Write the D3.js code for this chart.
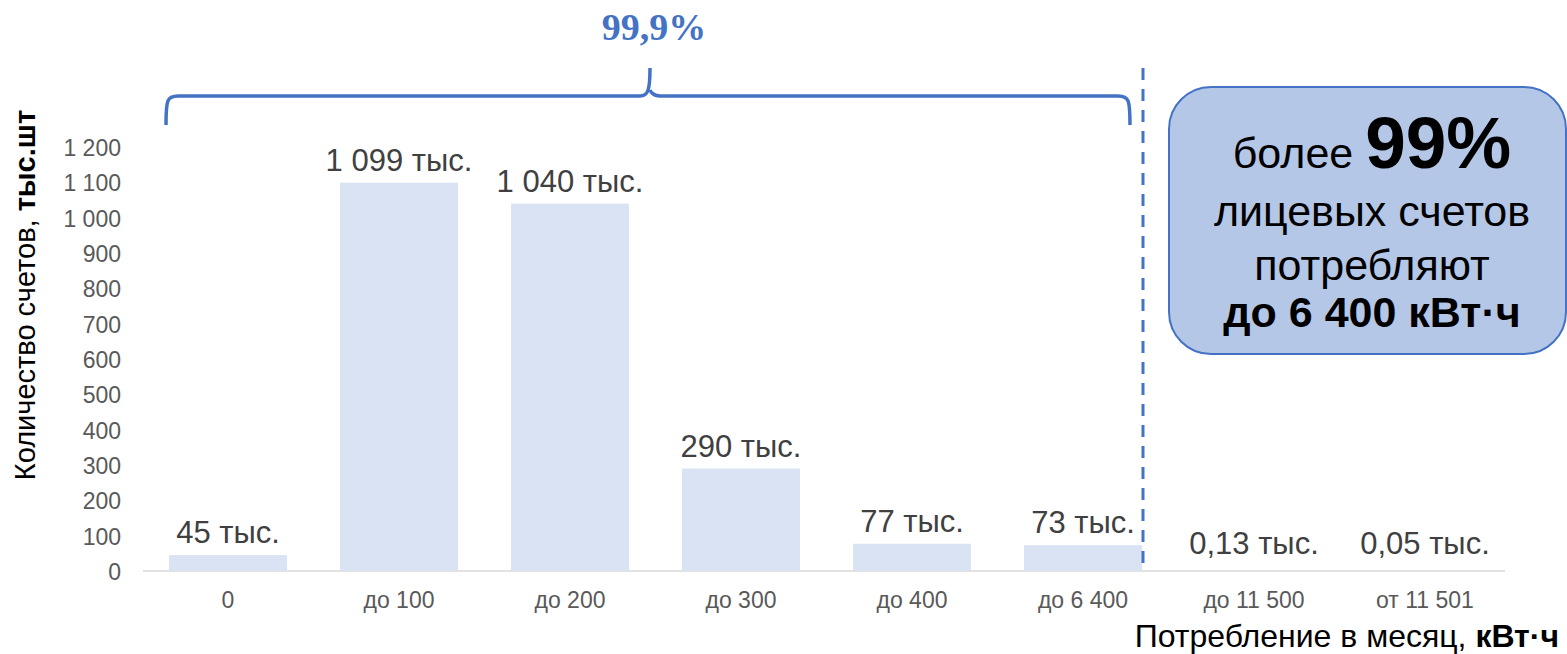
<!DOCTYPE html>
<html><head><meta charset="utf-8">
<script src="https://cdn.jsdelivr.net/npm/d3@7"></script>
<style>body{margin:0;background:#fff}svg{display:block;font-family:Arial,"Liberation Sans",sans-serif}</style>
</head><body><svg id="c" width="1567" height="654"></svg>
<script>
const categories = ["0","до 100","до 200","до 300","до 400","до 6 400","до 11 500","от 11 501"];
const values = [45, 1099, 1040, 290, 77, 73, 0.13, 0.05];
const valueLabels = ["45 тыс.","1 099 тыс.","1 040 тыс.","290 тыс.","77 тыс.","73 тыс.","0,13 тыс.","0,05 тыс."];
const yTicks = [0,100,200,300,400,500,600,700,800,900,1000,1100,1200];
const yTickLabels = ["0","100","200","300","400","500","600","700","800","900","1 000","1 100","1 200"];

(function(){
const svg = d3.select("#c");
const x = d3.scaleBand().domain(categories).range([142.5, 1510.5]).paddingInner(0.31).paddingOuter(0.155);
const y = d3.scaleLinear().domain([0,1200]).range([571,147]);
const blue = "#4472c4";

svg.append("line").attr("x1",143).attr("x2",1505).attr("y1",y(0)).attr("y2",y(0)).attr("stroke","#d9d9d9").attr("stroke-width",1.5);

svg.append("g").selectAll("text").data(yTicks).join("text")
  .attr("x",121).attr("y",d=>y(d)+9).attr("text-anchor","end")
  .attr("font-size",23).attr("fill","#595959").text((d,i)=>yTickLabels[i]);

svg.append("g").selectAll("rect").data(values).join("rect")
  .attr("x",(d,i)=>x(categories[i])).attr("width",x.bandwidth())
  .attr("y",d=>y(d)).attr("height",d=>y(0)-y(d)).attr("fill","#dae3f3");

svg.append("g").selectAll("text").data(values).join("text")
  .attr("x",(d,i)=>x(categories[i])+x.bandwidth()/2).attr("y",d=>Math.min(y(d),566)-12)
  .attr("text-anchor","middle").attr("font-size",31).attr("fill","#404040")
  .text((d,i)=>valueLabels[i]);

svg.append("g").selectAll("text").data(categories).join("text")
  .attr("x",d=>x(d)+x.bandwidth()/2).attr("y",608)
  .attr("text-anchor","middle").attr("font-size",23).attr("fill","#595959").text(d=>d);

const yt = svg.append("text").attr("transform","translate(35,295) rotate(-90)").attr("text-anchor","middle")
  .attr("font-size",29).attr("fill","#000");
yt.append("tspan").text("Количество счетов, ");
yt.append("tspan").attr("font-weight","bold").text("тыс.шт");

const xt = svg.append("text").attr("x",1559).attr("y",647).attr("text-anchor","end").attr("font-size",32).attr("fill","#000");
xt.append("tspan").text("Потребление в месяц, ");
xt.append("tspan").attr("font-weight","bold").text("кВт·ч");

const sepX = x(categories[5]) + x.bandwidth() + 1;
svg.append("line").attr("x1",sepX).attr("x2",sepX).attr("y1",68).attr("y2",y(0))
  .attr("stroke",blue).attr("stroke-width",3).attr("stroke-dasharray","12,9");

const bx0 = 166, bx1 = 1130, by = 96, mid = 650, tipY = 68, bot = 125;
const p = d3.path();
p.moveTo(bx0, bot);
p.bezierCurveTo(bx0, by+4, bx0+1, by, bx0+12, by);
p.lineTo(mid-10, by);
p.bezierCurveTo(mid-2, by, mid, by-6, mid, tipY);
p.moveTo(mid, by-6);
p.bezierCurveTo(mid, by-6, mid+2, by, mid+10, by);
p.lineTo(bx1-12, by);
p.bezierCurveTo(bx1-1, by, bx1, by+4, bx1, bot);
svg.append("path").attr("d",p.toString()).attr("fill","none").attr("stroke",blue).attr("stroke-width",3.5);

svg.append("text").attr("x",654).attr("y",40).attr("text-anchor","middle")
  .attr("font-family","'Liberation Serif','Times New Roman',serif").attr("font-weight","bold")
  .attr("font-size",38).attr("fill",blue).text("99,9%");

svg.append("rect").attr("x",1169).attr("y",87).attr("width",397).attr("height",267).attr("rx",42)
  .attr("fill","#b4c7e7").attr("stroke",blue).attr("stroke-width",2);
const cx = 1372;
const l1 = svg.append("text").attr("x",cx).attr("y",168).attr("text-anchor","middle").attr("fill","#000");
l1.append("tspan").attr("font-size",43).text("более ");
l1.append("tspan").attr("font-size",73).attr("font-weight","bold").text("99%");
svg.append("text").attr("x",cx).attr("y",226).attr("text-anchor","middle").attr("font-size",43).text("лицевых счетов");
svg.append("text").attr("x",cx).attr("y",280).attr("text-anchor","middle").attr("font-size",43).text("потребляют");
svg.append("text").attr("x",cx).attr("y",327).attr("text-anchor","middle").attr("font-size",43).attr("font-weight","bold").text("до 6 400 кВт·ч");
})();
</script></body></html>
